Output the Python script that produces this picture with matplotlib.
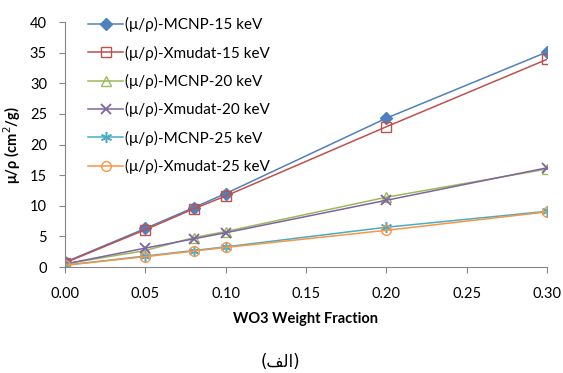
import numpy as np
import matplotlib
matplotlib.use('Agg')
import matplotlib.pyplot as plt

plt.rcParams['font.family'] = ['Lato', 'DejaVu Sans']

# WO3 weight fraction
x = [0.00, 0.05, 0.08, 0.10, 0.20, 0.30]

mcnp_15 = [0.8, 6.3, 9.7, 12.0, 24.3, 35.1]
xmudat_15 = [0.7, 6.1, 9.5, 11.6, 22.9, 33.9]
mcnp_20 = [0.5, 2.7, 4.8, 5.8, 11.4, 16.0]
xmudat_20 = [0.5, 3.1, 4.6, 5.6, 10.9, 16.2]
mcnp_25 = [0.3, 1.8, 2.7, 3.3, 6.5, 9.1]
xmudat_25 = [0.3, 1.7, 2.6, 3.2, 6.0, 9.0]

labels = ['(μ/ρ)-MCNP-15 keV', '(μ/ρ)-Xmudat-15 keV', '(μ/ρ)-MCNP-20 keV',
          '(μ/ρ)-Xmudat-20 keV', '(μ/ρ)-MCNP-25 keV', '(μ/ρ)-Xmudat-25 keV']
colors = ['#4F81BD', '#C0504D', '#9BBB59', '#8064A2', '#4BACC6', '#F79646']

fig = plt.figure(figsize=(5.63, 3.73), dpi=100)
ax = fig.add_axes([0.1155, 0.284, 0.856, 0.657])

series = [mcnp_15, xmudat_15, mcnp_20, xmudat_20, mcnp_25, xmudat_25]
styles = [
    dict(marker='D', markersize=6, markerfacecolor=colors[0]),
    dict(marker='s', markersize=7, markerfacecolor='none'),
    dict(marker='^', markersize=7, markerfacecolor='none'),
    dict(marker='x', markersize=7, markeredgewidth=1.3),
    dict(marker=(6, 2, 0), markersize=8, markeredgewidth=1.1),
    dict(marker='o', markersize=7, markerfacecolor='none'),
]
for y, lab, c, st in zip(series, labels, colors, styles):
    ax.plot(x, y, color=c, lw=1.1, markeredgecolor=c, label=lab, **st)

ax.set_xlim(0, 0.30)
ax.set_ylim(0, 40)
ax.set_xticks(np.arange(0, 0.31, 0.05))
ax.set_xticklabels(['%.2f' % v for v in np.arange(0, 0.31, 0.05)])
ax.set_yticks(range(0, 41, 5))
ax.tick_params(labelsize=10.5, color='#868686', direction='out', length=4)
ax.tick_params(axis='x', pad=10)
ax.tick_params(axis='y', pad=9)
for s in ['top', 'right']:
    ax.spines[s].set_visible(False)
for s in ['left', 'bottom']:
    ax.spines[s].set_color('#868686')
ax.set_xlabel('WO3 Weight Fraction', fontsize=10.5, fontweight='bold', labelpad=8)
ax.set_ylabel('μ/ρ (cm$^2$/g)', fontsize=10.5, fontweight='bold', labelpad=5)

ax.legend(loc='upper left', bbox_to_anchor=(0.035, 1.045), frameon=False, fontsize=11,
          handlelength=2.3, labelspacing=0.87, handletextpad=0.15, borderaxespad=0)

# caption "(الف)" shaped manually with presentation forms
fig.text(0.498, 0.03, '(\uFED2\uFEDF\uFE8D)', ha='center', va='center', fontsize=12,
         family=['DejaVu Sans'])

fig.savefig('out.png', dpi=100)
